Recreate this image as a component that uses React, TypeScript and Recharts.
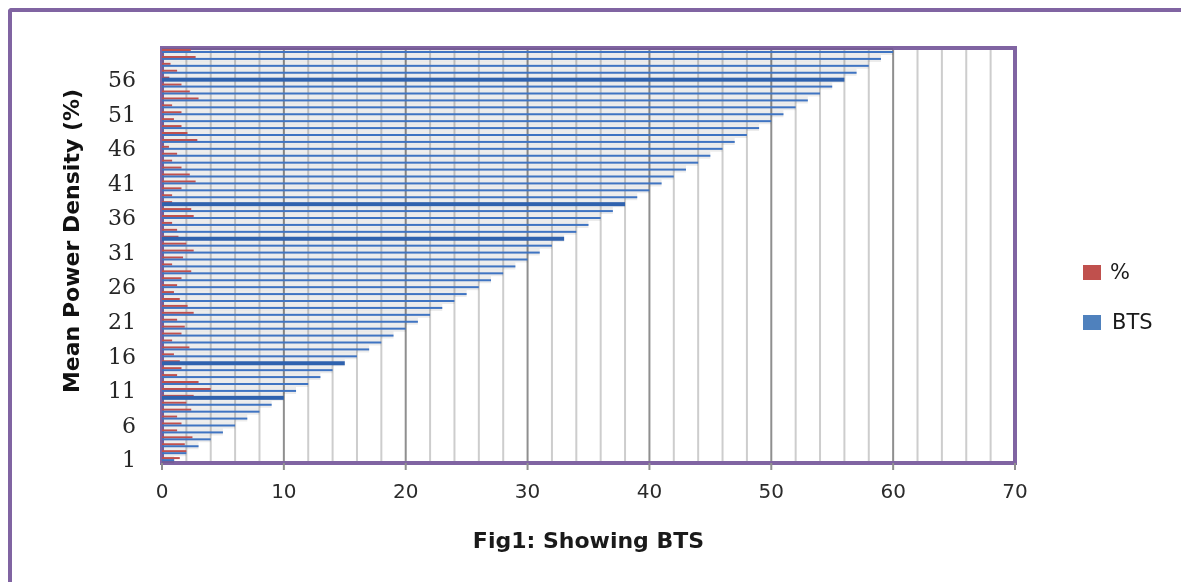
import { BarChart, Bar, XAxis, YAxis, CartesianGrid, ReferenceArea } from 'recharts';

// category labels (1 at the bottom, 60 at the top)
const categories = [
  1, 2, 3, 4, 5, 6, 7, 8, 9, 10, 11, 12, 13, 14, 15, 16, 17, 18, 19, 20,
  21, 22, 23, 24, 25, 26, 27, 28, 29, 30, 31, 32, 33, 34, 35, 36, 37, 38, 39, 40,
  41, 42, 43, 44, 45, 46, 47, 48, 49, 50, 51, 52, 53, 54, 55, 56, 57, 58, 59, 60,
];

// BTS series
const btsValues = [
  1, 2, 3, 4, 5, 6, 7, 8, 9, 10, 11, 12, 13, 14, 15, 16, 17, 18, 19, 20,
  21, 22, 23, 24, 25, 26, 27, 28, 29, 30, 31, 32, 33, 34, 35, 36, 37, 38, 39, 40,
  41, 42, 43, 44, 45, 46, 47, 48, 49, 50, 51, 52, 53, 54, 55, 56, 57, 58, 59, 60,
];

// % series
const pctValues = [
  1.46, 2.0, 1.87, 2.5, 1.24, 1.6, 1.24, 2.4, 2.0, 2.6,
  4.0, 3.0, 1.24, 1.6, 1.46, 0.98, 2.25, 0.83, 1.6, 1.87,
  1.24, 2.6, 2.1, 1.46, 0.98, 1.24, 1.6, 2.4, 0.83, 1.73,
  2.6, 2.0, 1.35, 1.24, 0.83, 2.6, 2.4, 0.83, 0.83, 1.6,
  2.76, 2.28, 1.6, 0.83, 1.24, 0.57, 2.9, 2.09, 1.6, 0.98,
  1.6, 0.83, 3.0, 2.28, 1.6, 0.6, 1.24, 0.7, 2.76, 2.36,
];

const X_MAX = 70;
const xTicks = [0, 10, 20, 30, 40, 50, 60, 70];
const xMinorTicks = [
  2, 4, 6, 8, 12, 14, 16, 18, 22, 24, 26, 28, 32, 34, 36, 38,
  42, 44, 46, 48, 52, 54, 56, 58, 62, 64, 66, 68,
];

// rows whose BTS bar is drawn heavier in the original
const THICK_ROWS = [10, 15, 33, 38, 56];

const chartData = categories.map((cat, i) => ({
  cat,
  pct: pctValues[i],
  bts: btsValues[i],
}));

const PURPLE = '#8064A2';
const RED = '#C0504D';
const BLUE = '#3F74C2';

const btsShape = (props: any) => {
  const { x, y, width, height, payload } = props;
  const thick = THICK_ROWS.includes(payload.cat);
  return (
    <rect
      x={x}
      y={thick ? y - 1 : y}
      width={Math.max(width, 0)}
      height={thick ? height + 2 : height}
      fill={thick ? '#2F62AE' : BLUE}
    />
  );
};

// minor vertical grid lines every 2 units (linear x axis from 0 to X_MAX)
const minorLines = ({ offset }: any) =>
  offset ? xMinorTicks.map((t) => offset.left + (t / X_MAX) * offset.width) : [];

export default function App() {
  return (
    <>
      {/* outer frame: only the top and left edges are in view */}
      <div
        style={{
          position: 'fixed',
          left: 8,
          top: 8,
          width: 1173,
          height: 4,
          background: PURPLE,
          borderTopLeftRadius: 4,
        }}
      />
      <div
        style={{
          position: 'fixed',
          left: 8,
          top: 8,
          width: 4,
          height: 574,
          background: PURPLE,
          borderTopLeftRadius: 4,
        }}
      />

      <div style={{ position: 'fixed', left: 0, top: 0, width: 1181, height: 582 }}>
        <BarChart
          width={1181}
          height={582}
          data={chartData}
          layout="vertical"
          margin={{ top: 48, right: 166, bottom: 24, left: 0 }}
          barGap={0}
          barCategoryGap={0}
        >
          <CartesianGrid
            horizontal={false}
            stroke="#cdcdcd"
            strokeWidth={2}
            verticalCoordinatesGenerator={minorLines}
          />
          <CartesianGrid horizontal={false} stroke="#8f8f8f" strokeWidth={2} />

          <XAxis
            type="number"
            domain={[0, X_MAX]}
            ticks={xTicks}
            height={95}
            axisLine={false}
            tickLine={{ stroke: '#8f8f8f', strokeWidth: 2 }}
            tickSize={7}
            tickMargin={14}
            tick={{ fill: '#2b2b2b', fontSize: 20, fontFamily: 'DejaVu Sans' }}
            label={{
              value: 'Fig1: Showing BTS',
              position: 'insideBottom',
              offset: 10,
              fill: '#1a1a1a',
              fontSize: 22,
              fontWeight: 'bold',
              fontFamily: 'DejaVu Sans',
            }}
          />
          <YAxis
            dataKey="cat"
            type="category"
            reversed
            width={162}
            interval={4}
            axisLine={false}
            tickLine={false}
            tickSize={0}
            tickMargin={26}
            tick={{ fill: '#262626', fontSize: 22, fontFamily: 'DejaVu Serif' }}
            label={{
              content: () => (
                <text
                  x={71}
                  y={241}
                  transform="rotate(-90 71 241)"
                  textAnchor="middle"
                  dominantBaseline="central"
                  fill="#111"
                  fontSize={22}
                  fontWeight="bold"
                  fontFamily="DejaVu Sans"
                >
                  Mean Power Density (%)
                </text>
              ),
            }}
          />
          <YAxis yAxisId="shade" dataKey="cat" type="category" reversed hide />

          {/* soft shadow behind the bars */}
          <Bar
            yAxisId="shade"
            dataKey="bts"
            fill="#000"
            fillOpacity={0.075}
            isAnimationActive={false}
          />

          <Bar dataKey="pct" name="%" fill={RED} barSize={2} isAnimationActive={false} />
          <Bar dataKey="bts" name="BTS" barSize={2} shape={btsShape} isAnimationActive={false} />

          <ReferenceArea x1={0} x2={X_MAX} fill="none" stroke={PURPLE} strokeWidth={4} ifOverflow="visible" />
        </BarChart>
      </div>

      {/* legend */}
      <div
        style={{
          position: 'fixed',
          left: 1083,
          top: 258,
          fontFamily: 'DejaVu Sans',
          fontSize: 21,
          color: '#1a1a1a',
        }}
      >
        <div style={{ display: 'flex', alignItems: 'center', height: 28, marginBottom: 22 }}>
          <div style={{ width: 18, height: 15, background: RED, marginRight: 9 }} />
          <span>%</span>
        </div>
        <div style={{ display: 'flex', alignItems: 'center', height: 28 }}>
          <div style={{ width: 18, height: 15, background: '#4F81BD', marginRight: 11 }} />
          <span>BTS</span>
        </div>
      </div>
    </>
  );
}
